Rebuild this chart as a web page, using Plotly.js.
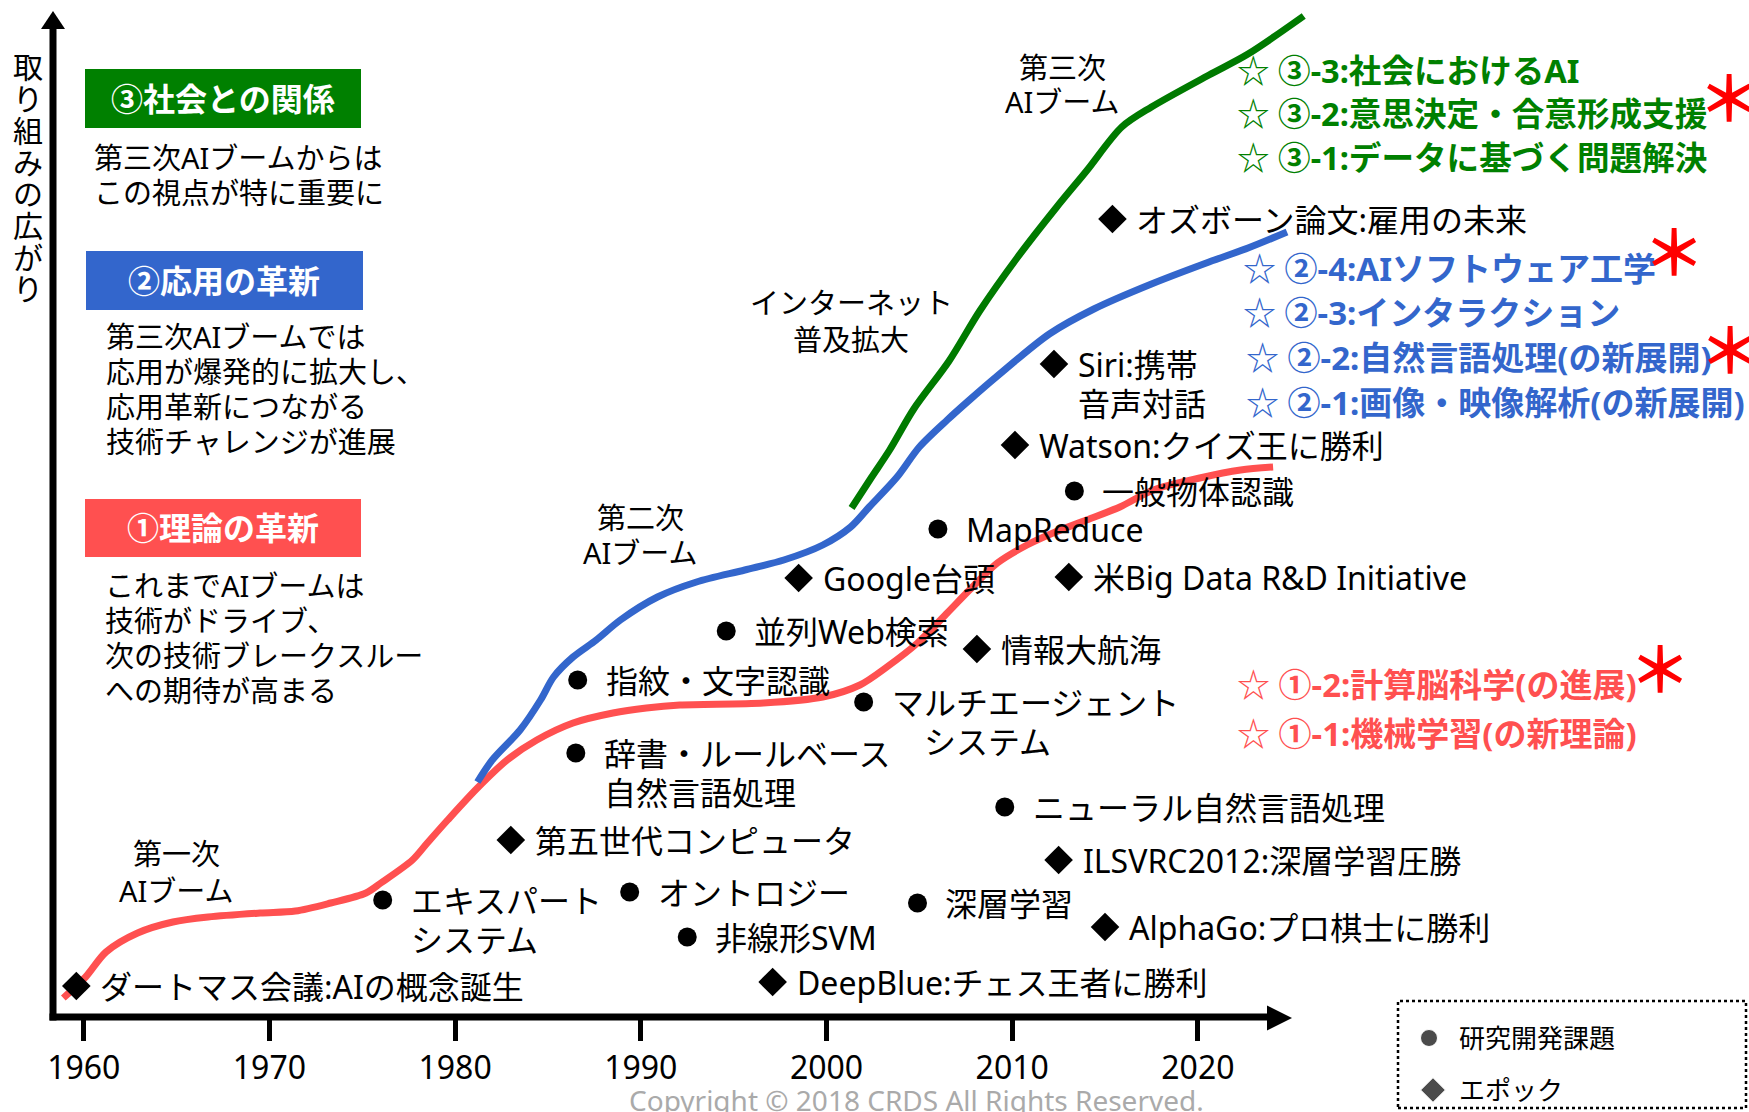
<!DOCTYPE html>
<html><head><meta charset="utf-8">
<script src="https://cdn.plot.ly/plotly-3.0.1.min.js"></script>
<style>html,body{margin:0;padding:0;background:#fff;}#chart{width:1749px;height:1112px;}</style>
</head><body><div id="chart"></div>
<script>
// ---------------- data ----------------
// ① 理論の革新 (theory) curve: year / level of effort
const theoryYears  = [1958.9,1960.1,1961.2,1962.9,1964.8,1966.7,1969.5,1971.4,1973.3,1975.2,1976.0,1977.7,1978.5,1979.6,1981.2,1982.8,1984.4,1986.35,1988.5,1990.3,1992.1,1996.6,1999.8,2001.8,2003.25,2004.9,2006.5,2007.7,2009.2,2010.8,2012.2,2014.0,2015.8,2017.6,2020.1,2022.3,2024.05];
const theoryLevels = [1.9,4.0,6.5,8.4,9.5,10.0,10.4,10.6,11.4,12.4,13.4,15.7,17.4,19.7,22.9,25.7,27.7,29.4,30.4,30.9,31.2,31.4,32.0,33.2,35.0,37.4,40.4,42.7,45.4,47.2,48.4,49.7,51.0,52.7,53.9,54.7,55.0];
// ② 応用の革新 (application) curve
const appYears  = [1981.2,1982.0,1983.5,1984.6,1985.3,1986.35,1987.6,1988.9,1990.9,1993.0,1995.6,1997.7,1999.8,2001.3,2002.3,2003.8,2005.0,2006.5,2007.7,2009.2,2012.0,2014.4,2017.5,2020.6,2022.7,2024.8];
const appLevels = [23.5,25.7,28.7,31.7,34.0,36.0,37.7,39.7,42.0,43.5,44.7,45.7,47.2,49.0,51.0,54.0,57.0,59.7,61.7,64.1,68.3,70.8,73.3,75.5,76.9,78.5];
// ③ 社会との関係 (society) curve
const socYears  = [2001.35,2002.4,2003.4,2004.7,2006.6,2008.25,2010.3,2012.4,2014.0,2015.9,2017.5,2020.6,2022.7,2025.7];
const socLevels = [50.9,53.9,56.7,60.8,65.6,70.6,76.0,81.0,84.6,89.0,91.0,94.2,96.3,100.1];

// ● 研究開発課題 (research topics)
const researchYears  = [1976.1,1986.5,1986.6,1994.6,2006.0,2013.35,2002.0,1989.4,1992.5,2004.9,2009.6];
const researchLevels = [11.7,26.4,33.7,38.6,48.8,52.6,31.5,12.5,8.0,11.4,21.0];
const researchLabels = ['エキスパート\nシステム','辞書・ルールベース\n自然言語処理','指紋・文字認識','並列Web検索','MapReduce','一般物体認識','マルチエージェント\n　システム','オントロジー','非線形SVM','深層学習','ニューラル自然言語処理'];
// ◆ エポック (epochs)
const epochYears  = [1959.6,1983.0,1998.5,2010.15,2012.25,2015.4,2013.05,2008.1,1997.1,2012.5,2015.0];
const epochLevels = [3.1,17.7,43.9,57.2,65.3,79.8,44.0,36.8,3.5,15.7,9.0];
const epochLabels = ['ダートマス会議:AIの概念誕生','第五世代コンピュータ','Google台頭','Watson:クイズ王に勝利','Siri:携帯\n音声対話','オズボーン論文:雇用の未来','米Big Data R&D Initiative','情報大航海','DeepBlue:チェス王者に勝利','ILSVRC2012:深層学習圧勝','AlphaGo:プロ棋士に勝利'];

const tickYears  = [1960,1970,1980,1990,2000,2010,2020];
const tickLabels = ['1960','1970','1980','1990','2000','2010','2020'];

const yTitle = '取り組みの広がり';
const boxTitles = ['③社会との関係','②応用の革新','①理論の革新'];
const socDesc    = ['第三次AIブームからは','この視点が特に重要に'];
const appDesc    = ['第三次AIブームでは','応用が爆発的に拡大し、','応用革新につながる','技術チャレンジが進展'];
const theoryDesc = ['これまでAIブームは','技術がドライブ、','次の技術ブレークスルー','への期待が高まる'];
const socTopics    = ['③-3:社会におけるAI','③-2:意思決定・合意形成支援','③-1:データに基づく問題解決'];
const appTopics    = ['②-4:AIソフトウェア工学','②-3:インタラクション','②-2:自然言語処理(の新展開)','②-1:画像・映像解析(の新展開)'];
const theoryTopics = ['①-2:計算脳科学(の進展)','①-1:機械学習(の新理論)'];
const boomLabels = [['第一次','AIブーム'],['第二次','AIブーム'],['第三次','AIブーム'],['インターネット','普及拡大']];
const legendNames = ['研究開発課題','エポック'];
const copyright = 'Copyright © 2018 CRDS All Rights Reserved.';

// ---------------- layout helpers ----------------
const W = 1749, H = 1112;
const X0 = 1955.49, X1 = 2049.68, Y0 = -9.5, Y1 = 101.7;
const PX = p => p / W;
const PY = p => 1 - p / H;
const F = '"Noto Sans", "Noto Sans CJK JP", sans-serif';
const RED = '#FF5050', BLUE = '#3366CC', GREEN = '#008000', GREEN_LINE = '#007A00';
const esc = s => s.replace(/&/g, '&amp;');

function pann(text, x, y, size, color, xanchor) {
  return {xref:'paper', yref:'paper', x:PX(x), y:PY(y), text:text, showarrow:false,
          xanchor:xanchor||'left', yanchor:'middle', font:{family:F, size:size, color:color||'black'}};
}

const annotations = [];
// y title, stacked characters
yTitle.split('').forEach((c, i) => annotations.push(pann(c, 28, 67 + i * 31.7, 30, 'black', 'center')));

// category boxes + descriptions
const boxColors = [GREEN, BLUE, RED];
const boxRects = [[85,69,361,128],[86,251,363,310],[85,499,361,557]];
const shapes = [];
boxRects.forEach((r, i) => {
  shapes.push({type:'rect', xref:'paper', yref:'paper', x0:PX(r[0]), x1:PX(r[2]), y0:PY(r[3]), y1:PY(r[1]),
               fillcolor:boxColors[i], line:{width:0}, layer:'below'});
  annotations.push(pann('<b>' + boxTitles[i] + '</b>', (r[0]+r[2])/2, (r[1]+r[3])/2, 32, 'white', 'center'));
});
socDesc.forEach((t, i) => annotations.push(pann(t, 92, 157 + i * 35, 29)));
appDesc.forEach((t, i) => annotations.push(pann(t, 104, 336 + i * 35.3, 29)));
theoryDesc.forEach((t, i) => annotations.push(pann(t, 103, 585 + i * 35, 29)));

// boom labels (centered)
const boomPos = [[176,853,37],[640,517,35],[1062,68,34],[851,302,37]];
boomLabels.forEach((lines, i) => lines.forEach((t, j) =>
  annotations.push(pann(t, boomPos[i][0], boomPos[i][1] + j * boomPos[i][2], 29, 'black', 'center'))));

// topic lists on the right
socTopics.forEach((t, i) => annotations.push(pann('☆ <b>' + t + '</b>', 1235, 70 + i * 43.5, 32.6, GREEN)));
appTopics.forEach((t, i) => annotations.push(pann('☆ <b>' + t + '</b>', 1241 + (i >= 2 ? 3 : 0), 268 + i * 44.7, 33, BLUE)));
theoryTopics.forEach((t, i) => annotations.push(pann('☆ <b>' + t + '</b>', 1235, 685 + i * 48, 33, RED)));
// red asterisks (new topics)
[[1729,93],[1674,247],[1730,345],[1660,664]].forEach(p =>
  annotations.push(pann('<b>＊</b>', p[0], p[1] + 5, 62, '#FF0000', 'center')));

// event labels (data positioned)
function eventLabels(years, levels, labels, shift) {
  labels.forEach((lab, i) => lab.split('\n').forEach((line, j) => annotations.push({
    xref:'x', yref:'y', x:years[i], y:levels[i], xshift:shift, yshift:-j * 39,
    text:esc(line), showarrow:false, xanchor:'left', yanchor:'middle',
    font:{family:F, size:32, color:'black'}})));
}
eventLabels(researchYears, researchLevels, researchLabels, 26);
eventLabels(epochYears, epochLevels, epochLabels, 22);

// legend box
shapes.push({type:'rect', xref:'paper', yref:'paper', x0:PX(1398), x1:PX(1746), y0:PY(1108), y1:PY(1001),
             line:{color:'black', width:2.5, dash:'dot'}});
legendNames.forEach((t, i) => annotations.push(pann(t, 1457, 1038 + i * 52, 26)));

// copyright
annotations.push(pann(copyright, 916, 1100, 28, '#AAAAAA', 'center'));

// axes lines and arrows
shapes.push({type:'line', xref:'paper', yref:'paper', x0:PX(53), x1:PX(53), y0:PY(1020.5), y1:PY(26), line:{color:'black', width:7}});
shapes.push({type:'path', xref:'paper', yref:'paper', fillcolor:'black', line:{width:0},
             path:`M ${PX(53)},${PY(11)} L ${PX(41)},${PY(29)} L ${PX(65)},${PY(29)} Z`});
shapes.push({type:'line', xref:'paper', yref:'paper', x0:PX(49.5), x1:PX(1270), y0:PY(1017), y1:PY(1017), line:{color:'black', width:7}});
shapes.push({type:'path', xref:'paper', yref:'paper', fillcolor:'black', line:{width:0},
             path:`M ${PX(1292)},${PY(1018)} L ${PX(1267)},${PY(1005.5)} L ${PX(1267)},${PY(1030.5)} Z`});

// ---------------- traces ----------------
const lineTrace = (x, y, color) => ({x:x, y:y, type:'scatter', mode:'lines', hoverinfo:'skip', showlegend:false,
                                     line:{color:color, width:7, shape:'spline', smoothing:0.85}});
const traces = [
  lineTrace(theoryYears, theoryLevels, RED),
  lineTrace(appYears, appLevels, BLUE),
  lineTrace(socYears, socLevels, GREEN_LINE),
  {x:researchYears, y:researchLevels, type:'scatter', mode:'markers', name:legendNames[0], showlegend:false,
   marker:{symbol:'circle', size:19, color:'black'}, hoverinfo:'skip'},
  {x:epochYears, y:epochLevels, type:'scatter', mode:'markers', name:legendNames[1], showlegend:false,
   marker:{symbol:'diamond', size:22, color:'black'}, hoverinfo:'skip'},
];
// legend symbols (positioned in layout space)
const pxToYear = p => X0 + p / W * (X1 - X0);
const pyToLevel = p => Y1 - p / H * (Y1 - Y0);
traces.push({x:[pxToYear(1429), pxToYear(1433)], y:[pyToLevel(1038), pyToLevel(1090)], type:'scatter', mode:'markers',
             showlegend:false, hoverinfo:'skip', cliponaxis:false,
             marker:{symbol:['circle','diamond'], size:[17,19], color:'black'}});

const layout = {
  width:W, height:H, margin:{l:0, r:0, t:0, b:0}, paper_bgcolor:'white', plot_bgcolor:'white',
  showlegend:false,
  xaxis:{range:[X0, X1], anchor:'free', position:PY(1017), showgrid:false, zeroline:false, showline:false,
         ticks:'outside', ticklen:23, tickwidth:5, tickcolor:'black', tickvals:tickYears, ticktext:tickLabels,
         tickfont:{family:F, size:32, color:'black'}, fixedrange:true},
  yaxis:{range:[Y0, Y1], visible:false, showgrid:false, zeroline:false, fixedrange:true},
  shapes:shapes, annotations:annotations, font:{family:F}
};
Plotly.newPlot('chart', traces, layout, {displayModeBar:false, staticPlot:true});
</script></body></html>
